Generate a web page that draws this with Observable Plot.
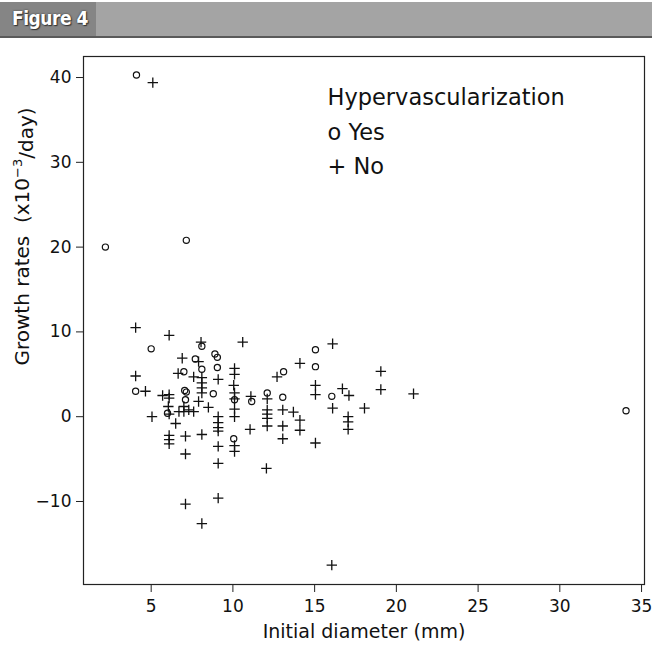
<!DOCTYPE html>
<html><head><meta charset="utf-8">
<script src="https://cdn.jsdelivr.net/npm/d3@7"></script>
<script src="https://cdn.jsdelivr.net/npm/@observablehq/plot@0.6"></script>
<style>
body{margin:0;background:#fff;width:652px;height:652px;overflow:hidden;}
#hdr{position:relative;height:40px;}
#bar{position:absolute;left:0;top:2px;width:652px;height:34px;
 background:linear-gradient(to right,#858585 0,#858585 96px,#a4a4a4 96px,#a4a4a4 100%);
 border-bottom:2px solid #5a5a5a;}
#bar span{position:absolute;left:12px;top:5px;color:#fff;font-family:"DejaVu Sans Condensed","DejaVu Sans",sans-serif;
 font-weight:bold;font-size:19px;letter-spacing:-0.5px;text-shadow:0 0 2px #333,1px 1px 1px #333;}
#chart svg{display:block;}
</style></head><body>
<div id="hdr"><div id="bar"><span>Figure 4</span></div></div>
<div id="chart"></div>
<script>
// Hypervascularization = Yes (circles)
const yesX = [2.2, 4.1, 7.15, 34.05, 5.0, 8.1, 8.9, 9.05, 7.7, 9.05, 8.1, 7.0, 4.05, 7.05, 7.15, 8.8, 7.1, 10.1, 11.15, 12.1, 6.0, 10.05, 13.1, 15.05, 15.05, 13.05, 16.05];
const yesY = [20.0, 40.3, 20.8, 0.7, 8.0, 8.3, 7.4, 7.0, 6.8, 5.8, 5.6, 5.3, 3.0, 3.1, 2.9, 2.7, 2.0, 2.0, 1.8, 2.8, 0.4, -2.6, 5.3, 7.9, 5.9, 2.3, 2.4];
// Hypervascularization = No (plus)
const noX = [5.1, 4.05, 6.1, 10.6, 8.05, 6.9, 7.9, 10.1, 10.1, 6.65, 7.6, 4.05, 8.1, 8.1, 8.1, 8.1, 9.1, 10.05, 4.65, 5.7, 6.1, 6.1, 7.9, 8.5, 6.05, 6.1, 6.7, 7.0, 7.3, 7.0, 7.6, 5.05, 6.5, 9.1, 9.1, 9.1, 9.1, 10.1, 10.1, 10.1, 10.1, 11.1, 11.05, 6.1, 6.1, 6.1, 7.1, 8.1, 9.1, 10.1, 10.1, 7.1, 9.1, 12.05, 7.1, 9.1, 8.1, 16.05, 12.1, 12.1, 12.1, 12.1, 12.1, 12.7, 14.1, 16.1, 15.05, 15.05, 13.05, 13.7, 13.05, 13.05, 14.1, 14.1, 16.1, 16.7, 17.1, 17.05, 17.05, 17.05, 18.05, 19.05, 19.05, 21.05, 15.05];
const noY = [39.4, 10.5, 9.6, 8.8, 8.8, 6.9, 6.5, 5.7, 5.0, 5.1, 4.7, 4.8, 4.6, 4.0, 3.4, 2.8, 4.4, 3.7, 3.0, 2.5, 2.6, 2.2, 1.8, 1.1, 1.2, 0.3, 0.6, 0.6, 0.8, 1.2, 0.6, 0.0, -0.8, 0.0, -0.7, -1.3, -1.7, 2.8, 2.1, 0.9, 0.0, 2.4, -1.5, -2.2, -2.7, -3.2, -2.3, -2.1, -3.5, -3.4, -4.1, -4.4, -5.5, -6.1, -10.3, -9.6, -12.6, -17.5, 2.1, 0.8, 0.3, -0.2, -1.1, 4.7, 6.3, 8.6, 3.7, 2.6, 0.8, 0.55, -1.1, -2.6, -0.4, -1.6, 1.0, 3.3, 2.5, 0.0, -0.6, -1.5, 1.0, 5.35, 3.2, 2.7, -3.1];
const xTicks = [5, 10, 15, 20, 25, 30, 35];
const yTicks = [-10, 0, 10, 20, 30, 40];
const legendLines = ["Hypervascularization", "o Yes", "+ No"];

const yesData = yesX.map((x, i) => ({x, y: yesY[i]}));
const noData = noX.map((x, i) => ({x, y: noY[i]}));

const plusSymbol = {
  draw(ctx, size) {
    const r = Math.sqrt(size / Math.PI);
    ctx.moveTo(-r, 0); ctx.lineTo(r, 0);
    ctx.moveTo(0, -r); ctx.lineTo(0, r);
  }
};

const font = "'DejaVu Sans',sans-serif";
const chart = Plot.plot({
  width: 652, height: 612,
  marginTop: 16, marginBottom: 68, marginLeft: 83, marginRight: 8,
  style: {fontFamily: font, fontSize: "17px", color: "#111", background: "white"},
  x: {domain: [0.86, 35.18]},
  y: {domain: [-19.79, 42.48]},
  marks: [
    Plot.frame({stroke: "#222", strokeWidth: 1.2}),
    Plot.axisX({ticks: xTicks, tickSize: 8, tickPadding: 7, fontSize: 17, label: null, tickFormat: d => String(d), stroke: "#222"}),
    Plot.axisY({ticks: yTicks, tickSize: 7, tickPadding: 5, fontSize: 17, label: null, tickFormat: d => d < 0 ? "\u2212" + (-d) : String(d), stroke: "#222"}),
    Plot.dot(noData, {x: "x", y: "y", symbol: plusSymbol, r: 5.2, stroke: "#111", strokeWidth: 1.3, fill: "none"}),
    Plot.dot(yesData, {x: "x", y: "y", symbol: "circle", r: 3.1, stroke: "#111", strokeWidth: 1.2, fill: "none"}),
    Plot.text(["Initial diameter (mm)"], {text: d => d, frameAnchor: "bottom", dy: 53, fontSize: 19, fill: "#111"}),
    Plot.text(["Growth rates  (x10-3/day)"], {text: d => d, frameAnchor: "left", textAnchor: "middle", rotate: -90, dx: -61, dy: -84, fontSize: 20, fill: "#111", className: "ylab"}),
    Plot.text([legendLines[0]], {text: d => d, frameAnchor: "top-left", textAnchor: "start", dx: 244, dy: 33, fontSize: 22.5, fill: "#111"}),
    Plot.text([legendLines[1]], {text: d => d, frameAnchor: "top-left", textAnchor: "start", dx: 244, dy: 68, fontSize: 22.5, fill: "#111"}),
    Plot.text([legendLines[2]], {text: d => d, frameAnchor: "top-left", textAnchor: "start", dx: 244, dy: 102, fontSize: 22.5, fill: "#111"})
  ]
});
document.getElementById("chart").appendChild(chart);
// superscript in y label
d3.select(chart).selectAll(".ylab text").each(function() {
  const t = d3.select(this);
  t.text(null);
  t.append("tspan").text("Growth rates  (x10");
  t.append("tspan").attr("dy", "-0.55em").attr("font-size", "0.65em").text("\u22123");
  t.append("tspan").attr("dy", "0.55em").text("/day)");
});
</script>
</body></html>
